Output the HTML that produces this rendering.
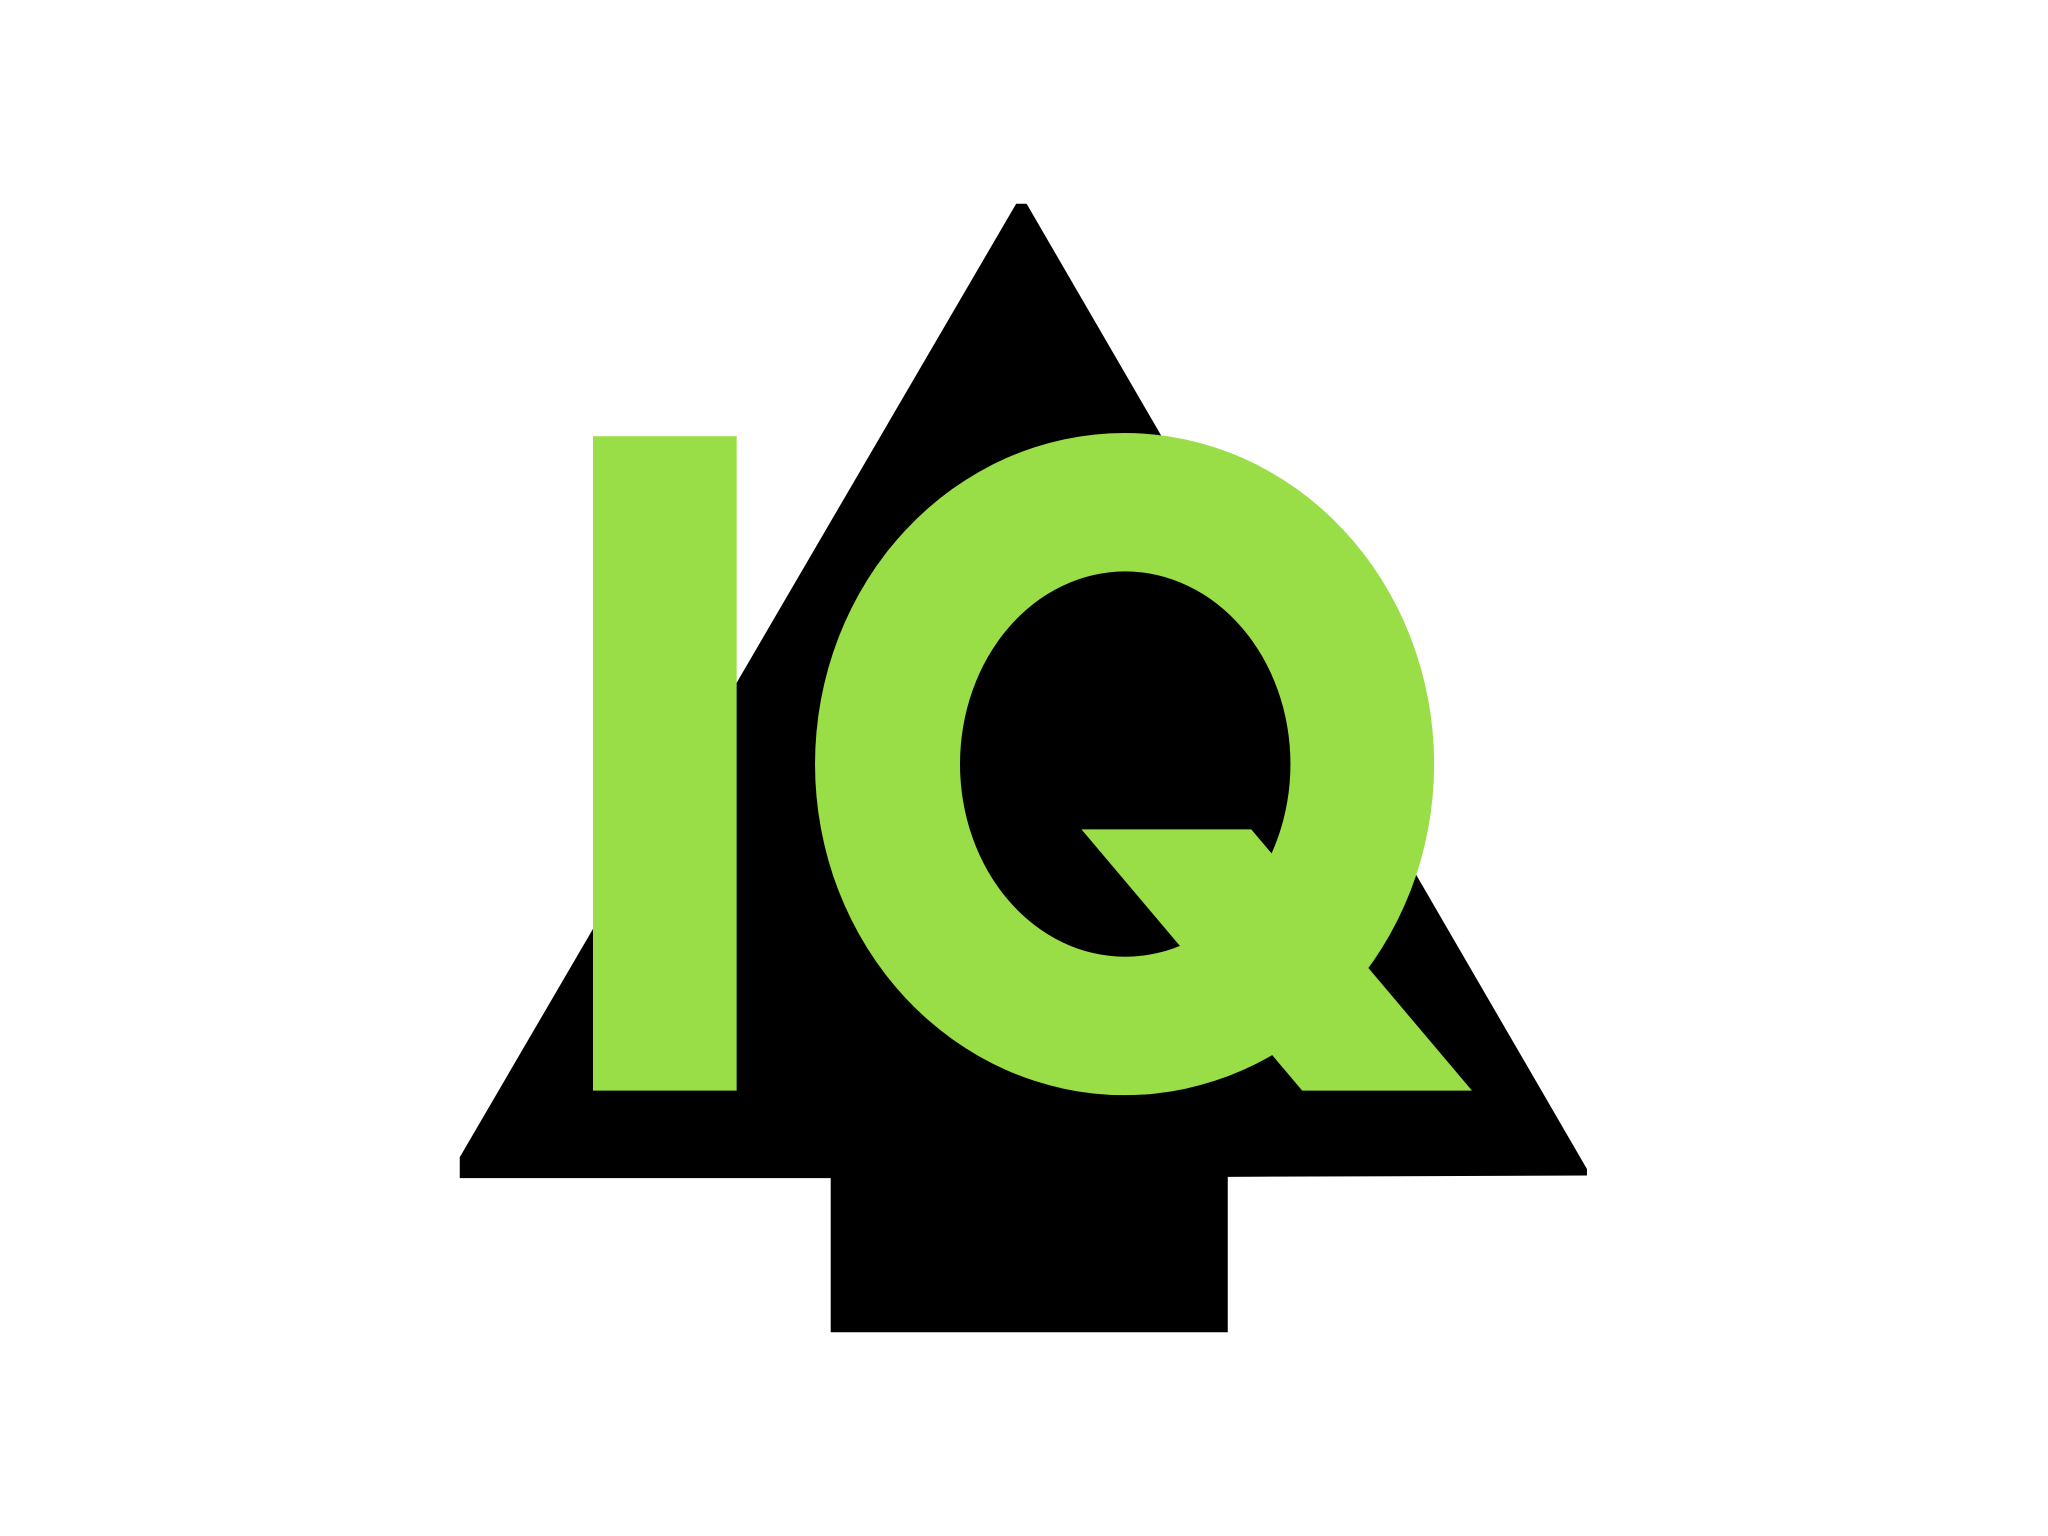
<!DOCTYPE html>
<html><head><meta charset="utf-8"><style>
html,body{margin:0;padding:0;background:#fff;width:2048px;height:1536px;overflow:hidden}
svg{display:block}
</style></head><body>
<svg width="2048" height="1536" viewBox="0 0 1568 1176" xmlns="http://www.w3.org/2000/svg" aria-label="IQ">
  <title>IQ</title>
  <polygon fill="#000" points="778,156 786,156 1215,895 1215,900 940,901 940,1020 636,1020 636,902 352,902 352,886"/>
  <rect fill="#99dd47" x="454" y="334" width="110" height="501"/>
  <path fill="#99dd47" fill-rule="evenodd"
    d="M624,585 a237,253.5 0 1,0 474,0 a237,253.5 0 1,0 -474,0 Z M735,585 a126.5,147.5 0 1,0 253,0 a126.5,147.5 0 1,0 -253,0 Z"/>
  <polygon fill="#99dd47" points="828,635 958,635 1127,835 997,835"/>
</svg>
</body></html>
